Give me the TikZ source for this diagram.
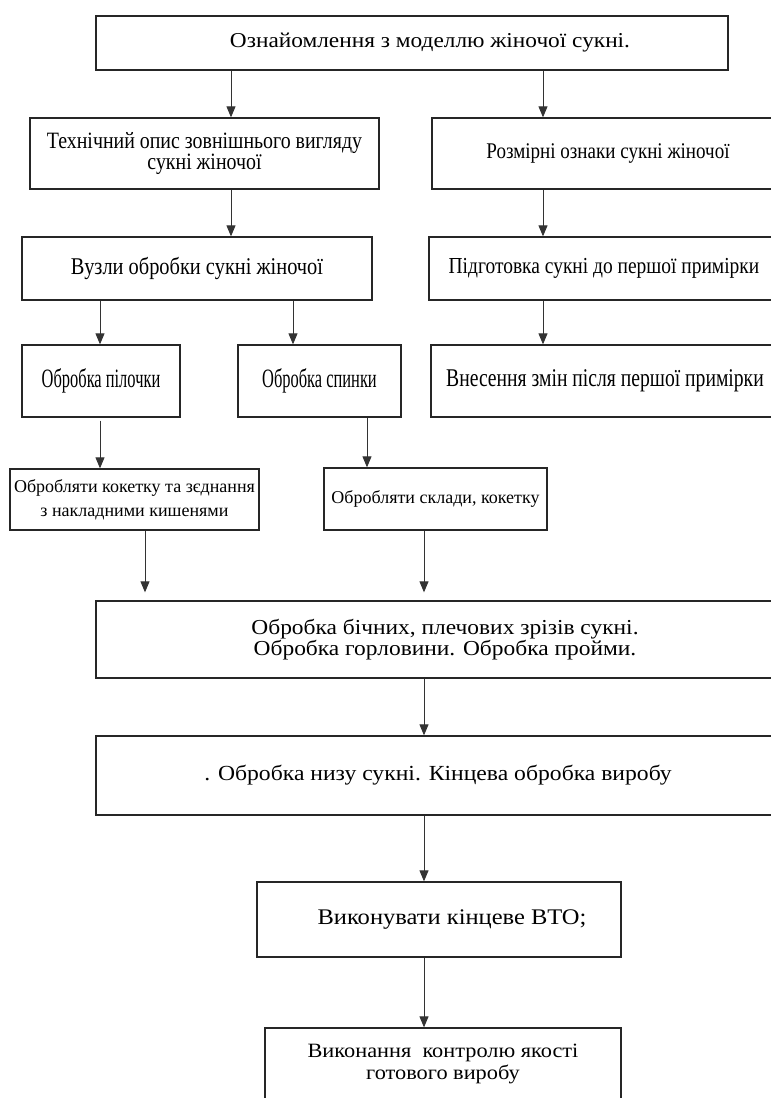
\documentclass[tikz,border=0pt]{standalone}
\usepackage{fontspec}
\setmainfont{Liberation Serif}
\newfontfamily\wideserif[FakeStretch=1.1]{Liberation Serif}
\newfontfamily\condserif[FakeStretch=0.85]{Liberation Serif}
\newfontfamily\tallserif[FakeStretch=0.77]{Liberation Serif}
\newfontfamily\narrowserif[FakeStretch=0.62]{Liberation Serif}
\usetikzlibrary{arrows.meta}

\begin{document}
\begin{tikzpicture}[x=1pt,y=-1pt,
  box/.style={draw=black!85,line width=1.3pt,fill=white,inner sep=0pt,align=center},
  arr/.style={draw=black!80,line width=0.9pt,-{Triangle[length=11pt,width=9pt]}}]
  \useasboundingbox (0,0) rectangle (771,1098);
  \clip (0,0) rectangle (771,1098);
  % columns of the arrows
  \coordinate (cA) at (231,0);
  \coordinate (cB) at (543,0);
  \coordinate (cC) at (100,0);
  \coordinate (cD) at (293,0);
  \coordinate (cE) at (367,0);
  \coordinate (cF) at (145,0);
  \coordinate (cG) at (424,0);
  % boxes
  \node[box,minimum width=632pt,minimum height=54pt,font=\wideserif\fontsize{21.2}{21}\selectfont] (model) at (412,43)
    {\hspace*{36pt}Ознайомлення з моделлю жіночої сукні.};
  \node[box,minimum width=349pt,minimum height=71pt,font=\condserif\fontsize{23.4}{20}\selectfont] (opys) at (204.5,153.5)
    {Технічний опис зовнішнього вигляду\\сукні жіночої};
  \node[box,minimum width=352pt,minimum height=71pt,font=\condserif\fontsize{22.4}{22}\selectfont] (rozmir) at (608,153.5)
    {Розмірні ознаки сукні жіночої};
  \node[box,minimum width=350pt,minimum height=63pt,font=\condserif\fontsize{24}{24}\selectfont] (vuzly) at (197,268.5)
    {Вузли обробки сукні жіночої};
  \node[box,minimum width=350pt,minimum height=63pt,font=\condserif\fontsize{22.9}{23}\selectfont] (pidgot) at (604,268.5)
    {Підготовка сукні до першої примірки};
  \node[box,minimum width=158pt,minimum height=72pt,font=\narrowserif\fontsize{26.5}{26}\selectfont] (pilochka) at (101,381)
    {Обробка пілочки};
  \node[box,minimum width=163pt,minimum height=72pt,font=\narrowserif\fontsize{26.5}{26}\selectfont] (spynka) at (319.5,381)
    {Обробка спинки};
  \node[box,minimum width=348pt,minimum height=72pt,font=\tallserif\fontsize{25.5}{25}\selectfont] (zminy) at (605,381)
    {Внесення змін після першої примірки};
  \node[box,minimum width=249pt,minimum height=61pt,font=\fontsize{18}{24}\selectfont] (koketka) at (134.5,499.5)
    {Обробляти кокетку та зєднання\\з накладними кишенями};
  \node[box,minimum width=223pt,minimum height=62pt,font=\fontsize{18}{24}\selectfont] (sklady) at (435.5,499)
    {Обробляти склади, кокетку};
  \node[box,minimum width=698pt,minimum height=77pt,font=\wideserif\fontsize{21.3}{21}\selectfont] (bichni) at (445,639.5)
    {Обробка бічних, плечових зрізів сукні.\\Обробка горловини. Обробка пройми.};
  \node[box,minimum width=684pt,minimum height=79pt,font=\wideserif\fontsize{21.5}{21}\selectfont] (nyz) at (438,775.5)
    {. Обробка низу сукні. Кінцева обробка виробу};
  \node[box,minimum width=364pt,minimum height=75pt,font=\wideserif\fontsize{22.3}{22}\selectfont] (vto) at (439,919.5)
    {\hspace*{26pt}Виконувати кінцеве ВТО;};
  \node[box,minimum width=356pt,minimum height=72pt,font=\wideserif\fontsize{20.3}{22}\selectfont] (kontrol) at (443,1064)
    {Виконання\ \ контролю якості\\готового виробу};
  % arrows
  \draw[arr] (model.south -| cA) -- (opys.north -| cA);
  \draw[arr] (model.south -| cB) -- (rozmir.north -| cB);
  \draw[arr] (opys.south -| cA) -- (vuzly.north -| cA);
  \draw[arr] (rozmir.south -| cB) -- (pidgot.north -| cB);
  \draw[arr] (vuzly.south -| cC) -- (pilochka.north -| cC);
  \draw[arr] (vuzly.south -| cD) -- (spynka.north -| cD);
  \draw[arr] (pidgot.south -| cB) -- (zminy.north -| cB);
  \draw[arr,shorten <=3pt] (pilochka.south -| cC) -- (koketka.north -| cC);
  \draw[arr] (spynka.south -| cE) -- (sklady.north -| cE);
  \draw[arr,shorten >=8pt] (koketka.south -| cF) -- (bichni.north -| cF);
  \draw[arr,shorten >=8pt] (sklady.south -| cG) -- (bichni.north -| cG);
  \draw[arr] (bichni.south -| cG) -- (nyz.north -| cG);
  \draw[arr] (nyz.south -| cG) -- (vto.north -| cG);
  \draw[arr] (vto.south -| cG) -- (kontrol.north -| cG);
\end{tikzpicture}
\end{document}
